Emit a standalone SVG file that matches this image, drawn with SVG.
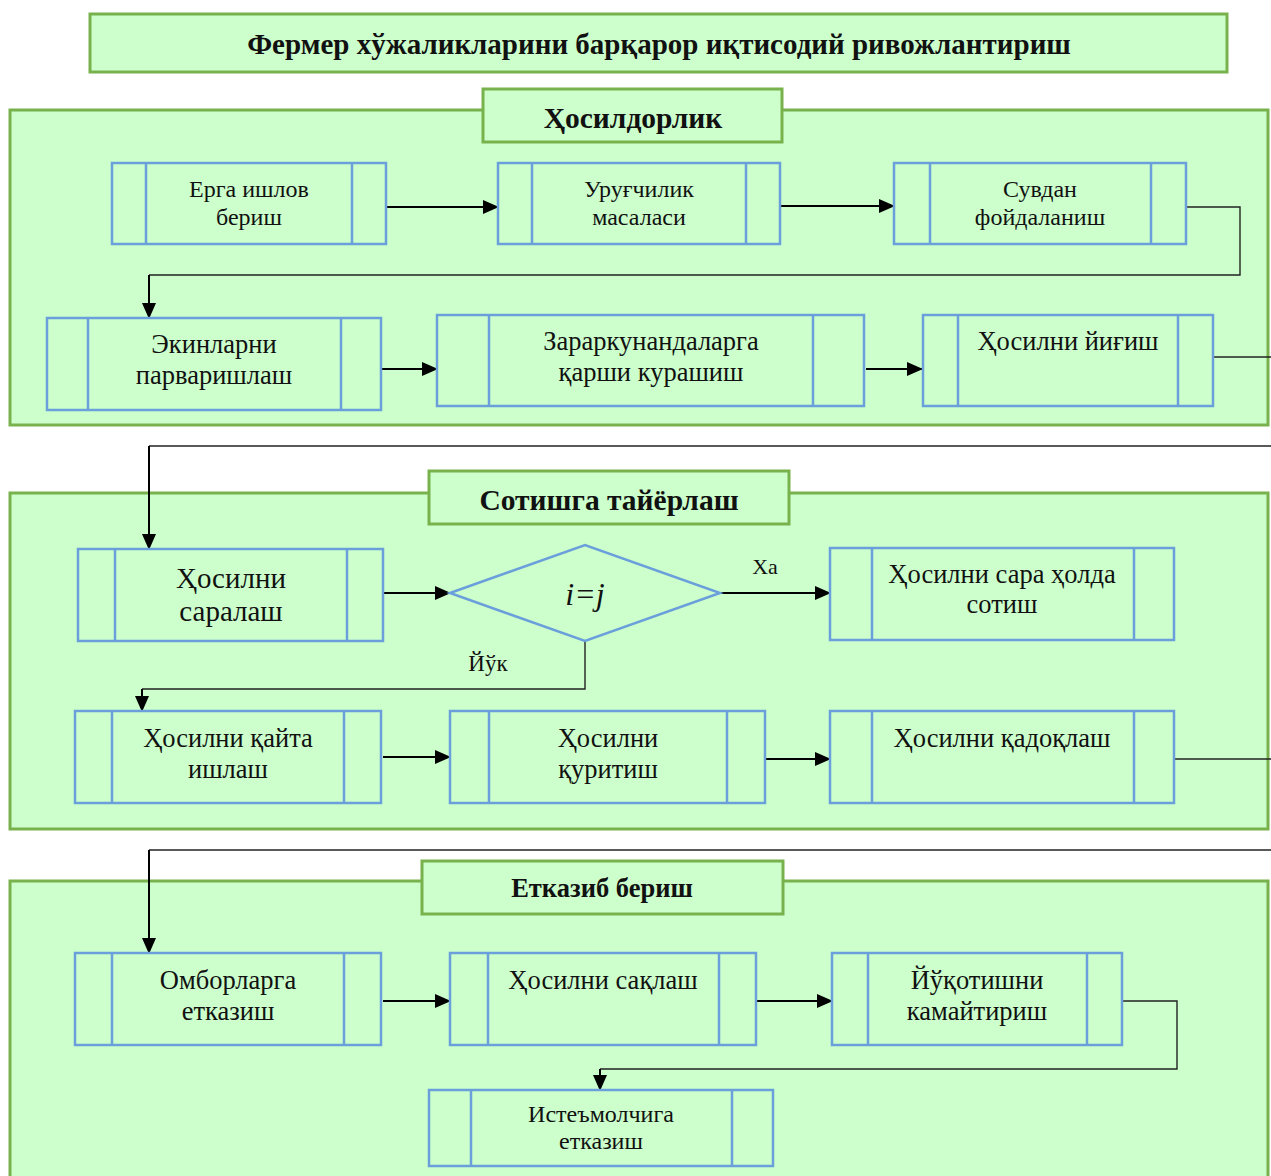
<svg xmlns="http://www.w3.org/2000/svg" width="1271" height="1176" viewBox="0 0 1271 1176">
<defs>
<marker id="ah" markerUnits="userSpaceOnUse" markerWidth="16" markerHeight="14" refX="15" refY="7" orient="auto">
<path d="M0,0 L16,7 L0,14 Z" fill="#000"/>
</marker>
<style>
.sec{fill:#ccffcc;stroke:#78b24c;stroke-width:3}
.hdr{fill:#ccffcc;stroke:#78b24c;stroke-width:3}
.box{fill:#ccffcc;stroke:#6a9fdb;stroke-width:2.5}
.div{stroke:#6a9fdb;stroke-width:2.5}
.t{font-family:"Liberation Serif","Times New Roman",serif;fill:#111;text-anchor:middle}
.b{font-weight:bold}
.arr{stroke:#000;stroke-width:2;fill:none}
.ln{stroke:#222;stroke-width:1.4;fill:none}
</style>
</defs>
<rect width="1271" height="1176" fill="#fff"/>

<g id="title">
<rect x="90" y="14" width="1137" height="58" class="hdr"/>
<text x="659" y="54" class="t b" font-size="29">Фермер хўжаликларини барқарор иқтисодий ривожлантириш</text>
</g>

<g id="section1">
<rect x="10" y="110" width="1258" height="315" class="sec"/>
<rect x="483" y="89" width="299" height="53" class="hdr"/>
<text x="633" y="128" class="t b" font-size="29.5">Ҳосилдорлик</text>
</g>
<g id="section2">
<rect x="10" y="493" width="1258" height="336" class="sec"/>
<rect x="429" y="471" width="360" height="53" class="hdr"/>
<text x="609" y="510" class="t b" font-size="29.5">Сотишга тайёрлаш</text>
</g>
<g id="section3">
<rect x="10" y="881" width="1258" height="310" class="sec"/>
<rect x="422" y="861" width="361" height="53" class="hdr"/>
<text x="602" y="897" class="t b" font-size="26.5">Етказиб бериш</text>
</g>

<g id="connectors">
<line x1="386" y1="207" x2="498" y2="207" class="arr" marker-end="url(#ah)"/>
<line x1="780" y1="206" x2="894" y2="206" class="arr" marker-end="url(#ah)"/>
<polyline points="1186,207 1240,207 1240,275 149,275" class="ln"/>
<line x1="149" y1="275" x2="149" y2="318" class="arr" marker-end="url(#ah)"/>
<line x1="381" y1="369" x2="437" y2="369" class="arr" marker-end="url(#ah)"/>
<line x1="866" y1="369" x2="922" y2="369" class="arr" marker-end="url(#ah)"/>
<line x1="1214" y1="357" x2="1271" y2="357" class="ln"/>
<polyline points="1271,446 149,446" class="ln"/>
<line x1="149" y1="446" x2="149" y2="549" class="arr" marker-end="url(#ah)"/>
<line x1="383" y1="593" x2="450" y2="593" class="arr" marker-end="url(#ah)"/>
<line x1="720" y1="593" x2="830" y2="593" class="arr" marker-end="url(#ah)"/>
<polyline points="585,641 585,689 142,689" class="ln"/>
<line x1="142" y1="689" x2="142" y2="711" class="arr" marker-end="url(#ah)"/>
<line x1="383" y1="757" x2="450" y2="757" class="arr" marker-end="url(#ah)"/>
<line x1="765" y1="759" x2="830" y2="759" class="arr" marker-end="url(#ah)"/>
<line x1="1174" y1="759" x2="1271" y2="759" class="ln"/>
<polyline points="1271,850 149,850" class="ln"/>
<line x1="149" y1="850" x2="149" y2="953" class="arr" marker-end="url(#ah)"/>
<line x1="383" y1="1001" x2="450" y2="1001" class="arr" marker-end="url(#ah)"/>
<line x1="756" y1="1001" x2="832" y2="1001" class="arr" marker-end="url(#ah)"/>
<polyline points="1122,1001 1177,1001 1177,1069 600,1069" class="ln"/>
<line x1="600" y1="1069" x2="600" y2="1090" class="arr" marker-end="url(#ah)"/>
<text x="765" y="574" class="t" font-size="22">Ха</text>
<text x="488" y="671" class="t" font-size="23">Йўк</text>
</g>

<g id="n1">
<rect x="112" y="163" width="274" height="81" class="box"/>
<line x1="146" y1="163" x2="146" y2="244" class="div"/><line x1="352" y1="163" x2="352" y2="244" class="div"/>
<text x="249" y="197" class="t" font-size="24">Ерга ишлов</text>
<text x="249" y="225" class="t" font-size="24">бериш</text>
</g>
<g id="n2">
<rect x="498" y="163" width="282" height="81" class="box"/>
<line x1="532" y1="163" x2="532" y2="244" class="div"/><line x1="746" y1="163" x2="746" y2="244" class="div"/>
<text x="639" y="197" class="t" font-size="24">Уруғчилик</text>
<text x="639" y="225" class="t" font-size="24">масаласи</text>
</g>
<g id="n3">
<rect x="894" y="163" width="292" height="81" class="box"/>
<line x1="930" y1="163" x2="930" y2="244" class="div"/><line x1="1151" y1="163" x2="1151" y2="244" class="div"/>
<text x="1040" y="197" class="t" font-size="24">Сувдан</text>
<text x="1040" y="225" class="t" font-size="24">фойдаланиш</text>
</g>
<g id="n4">
<rect x="47" y="318" width="334" height="92" class="box"/>
<line x1="88" y1="318" x2="88" y2="410" class="div"/><line x1="341" y1="318" x2="341" y2="410" class="div"/>
<text x="214" y="353" class="t" font-size="26.5">Экинларни</text>
<text x="214" y="384" class="t" font-size="26.5">парваришлаш</text>
</g>
<g id="n5">
<rect x="437" y="315" width="427" height="91" class="box"/>
<line x1="489" y1="315" x2="489" y2="406" class="div"/><line x1="813" y1="315" x2="813" y2="406" class="div"/>
<text x="651" y="350" class="t" font-size="26.5">Зараркунандаларга</text>
<text x="651" y="381" class="t" font-size="26.5">қарши курашиш</text>
</g>
<g id="n6">
<rect x="923" y="315" width="290" height="91" class="box"/>
<line x1="958" y1="315" x2="958" y2="406" class="div"/><line x1="1178" y1="315" x2="1178" y2="406" class="div"/>
<text x="1068" y="350" class="t" font-size="26.5">Ҳосилни йиғиш</text>
</g>

<g id="n7">
<rect x="78" y="549" width="305" height="92" class="box"/>
<line x1="115" y1="549" x2="115" y2="641" class="div"/><line x1="347" y1="549" x2="347" y2="641" class="div"/>
<text x="231" y="588" class="t" font-size="29">Ҳосилни</text>
<text x="231" y="621" class="t" font-size="29">саралаш</text>
</g>
<g id="n8">
<polygon points="450,593 585,545 720,593 585,641" class="box"/>
<text x="585" y="605" class="t" font-size="32" font-style="italic">i=j</text>
</g>
<g id="n9">
<rect x="830" y="548" width="344" height="92" class="box"/>
<line x1="872" y1="548" x2="872" y2="640" class="div"/><line x1="1134" y1="548" x2="1134" y2="640" class="div"/>
<text x="1002" y="583" class="t" font-size="26.5">Ҳосилни сара ҳолда</text>
<text x="1002" y="613" class="t" font-size="26.5">сотиш</text>
</g>
<g id="n10">
<rect x="75" y="711" width="306" height="92" class="box"/>
<line x1="112" y1="711" x2="112" y2="803" class="div"/><line x1="344" y1="711" x2="344" y2="803" class="div"/>
<text x="228" y="747" class="t" font-size="26.5">Ҳосилни қайта</text>
<text x="228" y="778" class="t" font-size="26.5">ишлаш</text>
</g>
<g id="n11">
<rect x="450" y="711" width="315" height="92" class="box"/>
<line x1="489" y1="711" x2="489" y2="803" class="div"/><line x1="727" y1="711" x2="727" y2="803" class="div"/>
<text x="608" y="747" class="t" font-size="26.5">Ҳосилни</text>
<text x="608" y="778" class="t" font-size="26.5">қуритиш</text>
</g>
<g id="n12">
<rect x="830" y="711" width="344" height="92" class="box"/>
<line x1="872" y1="711" x2="872" y2="803" class="div"/><line x1="1134" y1="711" x2="1134" y2="803" class="div"/>
<text x="1002" y="747" class="t" font-size="26.5">Ҳосилни қадоқлаш</text>
</g>

<g id="n13">
<rect x="75" y="953" width="306" height="92" class="box"/>
<line x1="112" y1="953" x2="112" y2="1045" class="div"/><line x1="344" y1="953" x2="344" y2="1045" class="div"/>
<text x="228" y="989" class="t" font-size="26.5">Омборларга</text>
<text x="228" y="1020" class="t" font-size="26.5">етказиш</text>
</g>
<g id="n14">
<rect x="450" y="953" width="306" height="92" class="box"/>
<line x1="488" y1="953" x2="488" y2="1045" class="div"/><line x1="719" y1="953" x2="719" y2="1045" class="div"/>
<text x="603" y="989" class="t" font-size="26.5">Ҳосилни сақлаш</text>
</g>
<g id="n15">
<rect x="832" y="953" width="290" height="92" class="box"/>
<line x1="868" y1="953" x2="868" y2="1045" class="div"/><line x1="1087" y1="953" x2="1087" y2="1045" class="div"/>
<text x="977" y="989" class="t" font-size="26.5">Йўқотишни</text>
<text x="977" y="1020" class="t" font-size="26.5">камайтириш</text>
</g>
<g id="n16">
<rect x="429" y="1090" width="344" height="76" class="box"/>
<line x1="471" y1="1090" x2="471" y2="1166" class="div"/><line x1="732" y1="1090" x2="732" y2="1166" class="div"/>
<text x="601" y="1122" class="t" font-size="24">Истеъмолчига</text>
<text x="601" y="1149" class="t" font-size="24">етказиш</text>
</g>
</svg>
